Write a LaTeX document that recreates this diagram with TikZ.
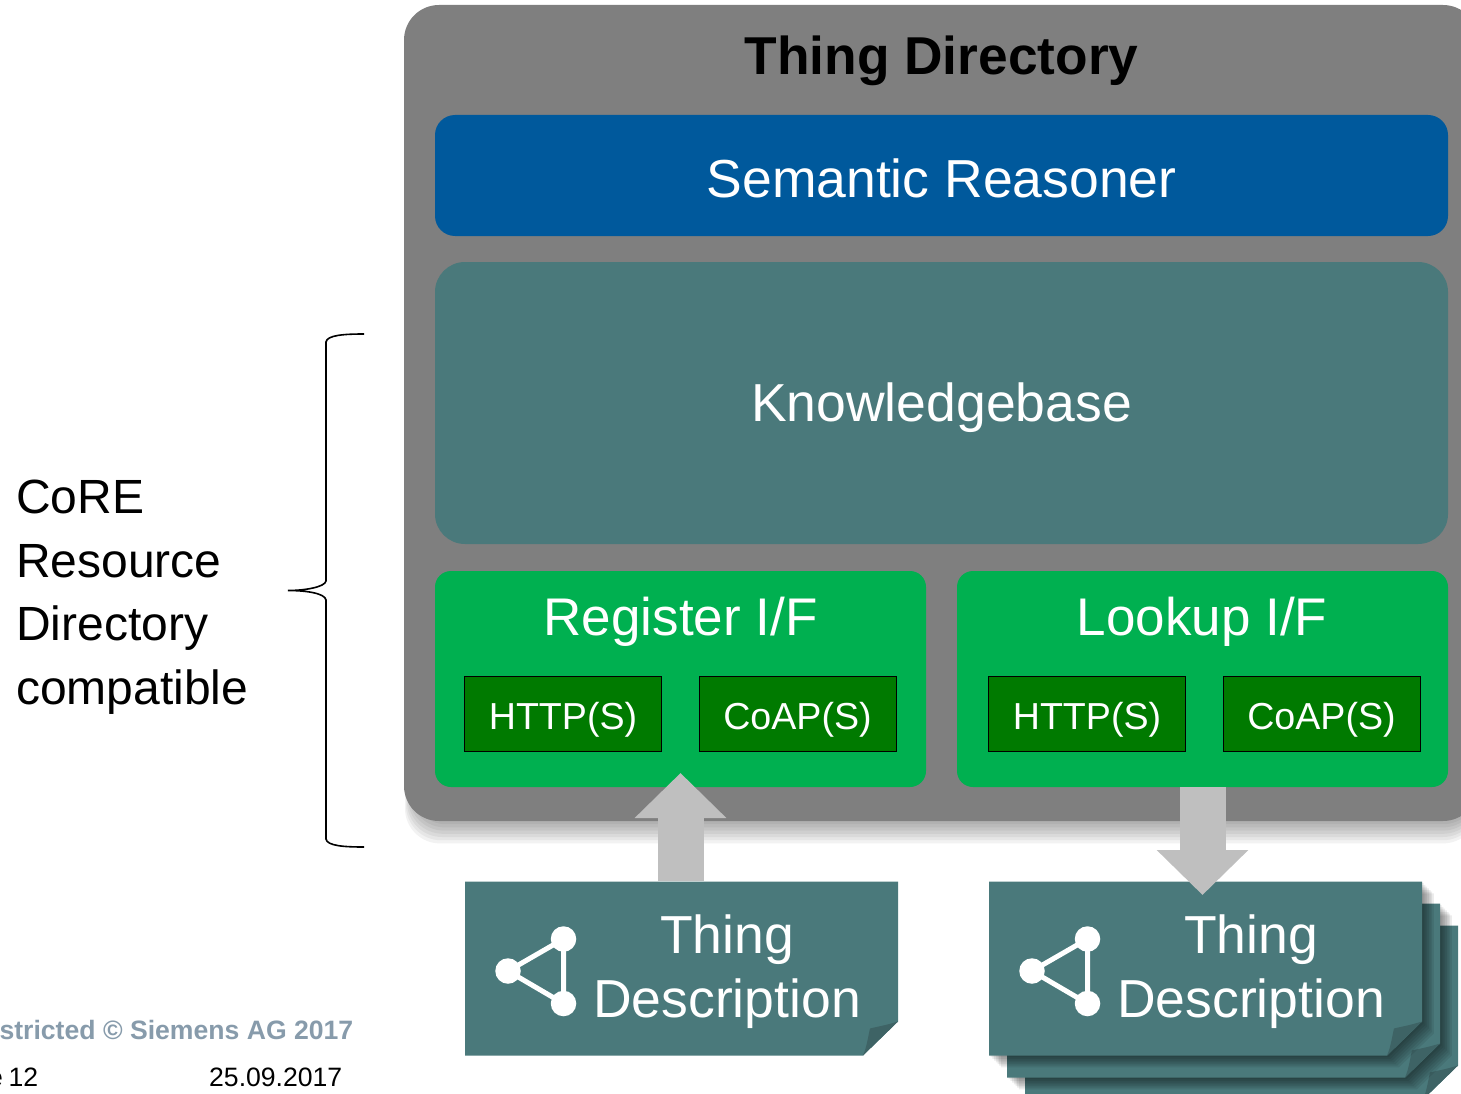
\documentclass[tikz,border=0pt]{standalone}
\usepackage{fontspec}
\setmainfont{Liberation Sans}
\usetikzlibrary{arrows.meta,calc}
\definecolor{dirgray}{HTML}{7F7F7F}
\definecolor{reasblue}{HTML}{00599C}
\definecolor{tealbox}{HTML}{4A797B}
\definecolor{tealdark}{HTML}{3E6365}
\definecolor{ifgreen}{HTML}{00B050}
\definecolor{protgreen}{HTML}{007A00}
\definecolor{arrowgray}{HTML}{BFBFBF}
\definecolor{footgray}{HTML}{879BAB}
\newcommand{\fs}[1]{\fontsize{#1}{#1}\selectfont}
\tikzset{
  protbox/.style={fill=protgreen,draw=black,line width=1pt,inner sep=0pt,outer sep=0pt,minimum width=197pt,minimum height=75pt},
  ifbox/.style={fill=ifgreen,rounded corners=16pt,inner sep=0pt,outer sep=0pt,minimum width=491pt,minimum height=216pt},
  headtxt/.style={anchor=base,text=white,font=\fs{53.5}},
  iftxt/.style={anchor=base,text=white,font=\fs{53}},
  prottxt/.style={anchor=base,text=white,font=\fs{37.6}},
  sidetxt/.style={anchor=base west,text=black,inner sep=0pt,font=\fs{48}},
  blockarrow/.style={draw=arrowgray,line width=46pt,-{Triangle[width=89pt,length=45pt,sep=0pt]}},
  tdtxt/.style={anchor=base,text=white,font=\fs{53.5}},
  iconline/.style={draw=white,line width=5pt},
  icondot/.style={circle,fill=white,inner sep=0pt,minimum size=25.5pt}
}
% folded note sheet, offset #1,#2
\newcommand{\sheet}[3]{%
  \begin{scope}[shift={(#1,#2)}]
    \ifnum#3=1
      \foreach \i in {7,6,5,4,3,2,1}
        \fill[black,opacity=0.075,shift={(\i*1.7,\i*1.7)}] (0,0) -- (433,0) -- (433,140) -- (398,174) -- (0,174) -- cycle;
    \fi
    \fill[tealbox] (0,0) -- (433,0) -- (433,140) -- (398,174) -- (0,174) -- cycle;
    \fill[tealdark] (433,140) .. controls (420,144) and (413,145) .. (405,147) .. controls (403,155) and (402,165) .. (398,174) -- cycle;
  \end{scope}}
\begin{document}
\begin{tikzpicture}[x=1pt,y=-1pt]
\useasboundingbox (0,0) rectangle (1461,1094);
\clip (0,0) rectangle (1461,1094);

% left brace
\draw[black,line width=1.6pt] (364,334) .. controls (345,334) and (327,335) .. (326,342) -- (326,581)
  .. controls (325,587) and (305,590.5) .. (288,590.5) .. controls (305,590.5) and (325,593) .. (326,600) -- (326,839)
  .. controls (327,846) and (345,847) .. (364,847);
\node[sidetxt] (s1) at (16,513) {CoRE};
\node[sidetxt] (s2) at (16,577) {Resource};
\node[sidetxt] (s3) at (16,640) {Directory};
\node[sidetxt] (s4) at (16,704) {compatible};

% footer
\node[anchor=base east,text=footgray,font=\fs{26.6}\bfseries,inner sep=0pt] (f1) at (353.5,1039) {stricted © Siemens AG 2017};
\node[anchor=base east,text=black,font=\fs{26.6},inner sep=0pt] (f2) at (38.5,1086) {e\hspace{-1.5pt} 12};
\node[anchor=base east,text=black,font=\fs{26.6},inner sep=0pt] (f3) at (342.5,1086) {25.09.2017};

% directory shadow and box
\foreach \i in {7,6,5,4,3,2,1}
  \fill[black,opacity=0.05,rounded corners=35pt] ({404+(8-\i)*1.0},{5+\i*3.2}) rectangle (1478,{821+\i*3.2});
\node[fill=dirgray,rounded corners=35pt,inner sep=0pt,outer sep=0pt,minimum width=1074pt,minimum height=816pt] (dir) at (941,413) {};
\node[anchor=base,text=black,font=\fs{53.3}\bfseries] (dirt) at (941.5,75) {Thing Directory};

\node[fill=reasblue,rounded corners=20pt,inner sep=0pt,outer sep=0pt,minimum width=1013pt,minimum height=121pt] (reas) at (941.5,175.5) {};
\node[headtxt] (reast) at (941.5,198) {Semantic Reasoner};

\node[fill=tealbox,rounded corners=30pt,inner sep=0pt,outer sep=0pt,minimum width=1013pt,minimum height=282pt] (kb) at (941.5,403) {};
\node[headtxt] (kbt) at (941.5,421.5) {Knowledgebase};

\node[ifbox] (reg) at (680.5,679) {};
\node[ifbox] (look) at (1202.5,679) {};
\node[iftxt] (regt) at (680.5,635.5) {Register I/F};
\node[iftxt] (lookt) at (1202,635.5) {Lookup I/F};

\node[protbox] (h1) at (563,714) {};
\node[protbox] (c1) at (797.5,714) {};
\node[protbox] (h2) at (1087,714) {};
\node[protbox] (c2) at (1321.5,714) {};
\node[prottxt] (h1t) at (563,729.5) {HTTP(S)};
\node[prottxt] (c1t) at (797.5,729.5) {CoAP(S)};
\node[prottxt] (h2t) at (1087,729.5) {HTTP(S)};
\node[prottxt] (c2t) at (1321.5,729.5) {CoAP(S)};

% anchors of the description sheets
\coordinate (td1top) at (681,881);
\coordinate (td2top) at (1205,881);

% register arrow (behind the sheet)
\draw[blockarrow] (td1top -| reg.south) -- ([yshift=14pt]reg.south);

% single sheet
\sheet{465}{881.5}{0}
\node[tdtxt] (t1a) at (727,953.5) {Thing};
\node[tdtxt] (t1b) at (727,1017.5) {Description};
\node[icondot] (i1a) at (508,971) {};
\node[icondot] (i1b) at (563.5,939) {};
\node[icondot] (i1c) at (563.5,1003.5) {};
\draw[iconline] (i1a.center) -- (i1b.center) -- (i1c.center) -- (i1a.center);

% stacked sheets
\sheet{1025}{925.5}{0}
\sheet{1007}{903.5}{1}
\sheet{989}{881.5}{1}
\node[tdtxt] (t2a) at (1251,953.5) {Thing};
\node[tdtxt] (t2b) at (1251,1017.5) {Description};
\node[icondot] (i2a) at (1032,971) {};
\node[icondot] (i2b) at (1087.5,939) {};
\node[icondot] (i2c) at (1087.5,1003.5) {};
\draw[iconline] (i2a.center) -- (i2b.center) -- (i2c.center) -- (i2a.center);

% lookup arrow (over the sheet)
\draw[blockarrow] (look.south) -- ([yshift=-14pt]td2top -| look.south);
\end{tikzpicture}
\end{document}
